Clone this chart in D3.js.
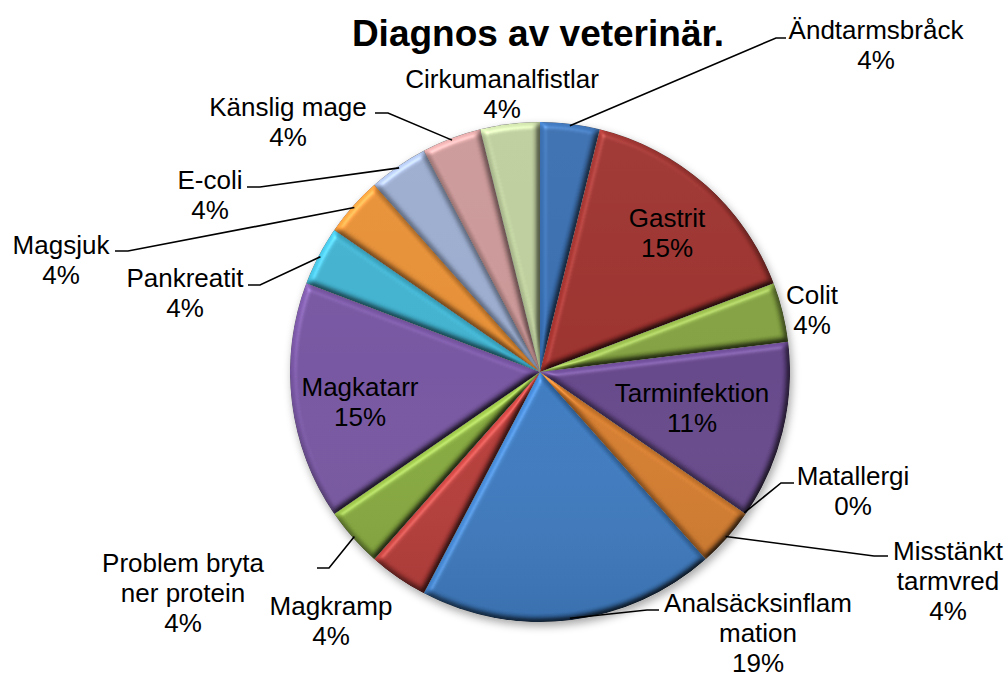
<!DOCTYPE html>
<html>
<head>
<meta charset="utf-8">
<script src="https://cdn.jsdelivr.net/npm/d3@7"></script>
<style>
  html, body { margin: 0; padding: 0; background: #ffffff; }
  svg { display: block; }
  text { font-family: "Liberation Sans", Arial, sans-serif; fill: #000; }
</style>
</head>
<body>
<svg id="chart" width="1008" height="677"></svg>
<script>
// ---- data ----
const title = "Diagnos av veterinär.";
const categories = ["Ändtarmsbråck", "Gastrit", "Colit", "Tarminfektion", "Matallergi",
  "Misstänkt tarmvred", "Analsäcksinflammation", "Magkramp", "Problem bryta ner protein",
  "Magkatarr", "Pankreatit", "Magsjuk", "E-coli", "Känslig mage", "Cirkumanalfistlar"];
const counts = [1, 4, 1, 3, 0, 1, 5, 1, 1, 4, 1, 1, 1, 1, 1];
const percentLabels = ["4%", "15%", "4%", "11%", "0%", "4%", "19%", "4%", "4%", "15%", "4%", "4%", "4%", "4%", "4%"];

// ---- styles / layout (kept apart from the data) ----
const colors = ["#3A74BC", "#A8332F", "#8DAE45", "#6C4B94", "#3CA3BF", "#E6852F",
  "#4083CF", "#C43E3A", "#8FB640", "#7F5BAD", "#44C0E0", "#FA9A38",
  "#A6B9DF", "#DBA2A2", "#CCDEA8"];
const labelLayout = {
  "Ändtarmsbråck":            {lines: ["Ändtarmsbråck"], x: 876, y: 39, lead: [776, 38, 786]},
  "Gastrit":                  {lines: ["Gastrit"], x: 667, y: 227},
  "Colit":                    {lines: ["Colit"], x: 812, y: 304},
  "Tarminfektion":            {lines: ["Tarminfektion"], x: 692, y: 402},
  "Matallergi":               {lines: ["Matallergi"], x: 853, y: 485, lead: [781, 483, 794]},
  "Misstänkt tarmvred":       {lines: ["Misstänkt", "tarmvred"], x: 948, y: 560, lead: [874, 556, 888]},
  "Analsäcksinflammation":    {lines: ["Analsäcksinflam", "mation"], x: 758, y: 612, lead: [647, 610, 659]},
  "Magkramp":                 {lines: ["Magkramp"], x: 331, y: 615},
  "Problem bryta ner protein":{lines: ["Problem bryta", "ner protein"], x: 183, y: 572, lead: [329, 568, 317]},
  "Magkatarr":                {lines: ["Magkatarr"], x: 360, y: 396},
  "Pankreatit":               {lines: ["Pankreatit"], x: 185, y: 287, lead: [260, 285, 248]},
  "Magsjuk":                  {lines: ["Magsjuk"], x: 61, y: 254, lead: [128, 251, 115]},
  "E-coli":                   {lines: ["E-coli"], x: 210, y: 189, lead: [260, 187, 247]},
  "Känslig mage":             {lines: ["Känslig mage"], x: 288, y: 116, lead: [388, 113, 375]},
  "Cirkumanalfistlar":        {lines: ["Cirkumanalfistlar"], x: 502, y: 88}
};
const cx = 540, cy = 372, R = 250;
const fontSize = 26, lineH = 30;

const svg = d3.select("#chart");
const defs = svg.append("defs");

// bevel filter
const f = defs.append("filter").attr("id", "bevel")
  .attr("x", "-5%").attr("y", "-5%").attr("width", "110%").attr("height", "110%")
  .attr("color-interpolation-filters", "sRGB");
f.append("feGaussianBlur").attr("in", "SourceAlpha").attr("stdDeviation", 3).attr("result", "blur");
const dl = f.append("feDiffuseLighting").attr("in", "blur").attr("surfaceScale", 4)
  .attr("diffuseConstant", 1).attr("lighting-color", "#ffffff").attr("result", "diff");
dl.append("feDistantLight").attr("azimuth", 235).attr("elevation", 55);
f.append("feComposite").attr("in", "SourceGraphic").attr("in2", "diff")
  .attr("operator", "arithmetic").attr("k1", 1.1).attr("k2", 0).attr("k3", 0).attr("k4", 0).attr("result", "lit");
const sl = f.append("feSpecularLighting").attr("in", "blur").attr("surfaceScale", 4)
  .attr("specularConstant", 0.5).attr("specularExponent", 30).attr("lighting-color", "#ffffff").attr("result", "spec");
sl.append("feDistantLight").attr("azimuth", 235).attr("elevation", 50);
f.append("feComposite").attr("in", "spec").attr("in2", "SourceAlpha").attr("operator", "in").attr("result", "specIn");
f.append("feComposite").attr("in", "lit").attr("in2", "specIn")
  .attr("operator", "arithmetic").attr("k1", 0).attr("k2", 1).attr("k3", 0.3).attr("k4", 0).attr("result", "out");
f.append("feComposite").attr("in", "out").attr("in2", "SourceAlpha").attr("operator", "in");

// shadow filter
const sh = defs.append("filter").attr("id", "shadow")
  .attr("x", "-10%").attr("y", "-10%").attr("width", "125%").attr("height", "125%");
sh.append("feDropShadow").attr("dx", 2).attr("dy", 4).attr("stdDeviation", 4)
  .attr("flood-color", "#000").attr("flood-opacity", 0.35);

// global vertical light gradient
const lg = defs.append("linearGradient").attr("id", "shade").attr("x1", 0).attr("y1", 0).attr("x2", 0).attr("y2", 1);
lg.append("stop").attr("offset", "0%").attr("stop-color", "#fff").attr("stop-opacity", 0.04);
lg.append("stop").attr("offset", "50%").attr("stop-color", "#fff").attr("stop-opacity", 0);
lg.append("stop").attr("offset", "100%").attr("stop-color", "#000").attr("stop-opacity", 0.1);

const pie = d3.pie().sort(null).value(d => d.value).startAngle(0).endAngle(2 * Math.PI);
const data = categories.map((c, i) => ({name: c, value: counts[i], pct: percentLabels[i], color: colors[i]}));
const arcs = pie(data);
const arc = d3.arc().innerRadius(0).outerRadius(R);

const g = svg.append("g").attr("transform", `translate(${cx},${cy})`);
g.append("circle").attr("r", R).attr("fill", "#888").attr("filter", "url(#shadow)");
g.selectAll("path.slice").data(arcs).join("path")
  .attr("class", "slice")
  .attr("d", arc)
  .attr("fill", d => d.data.color)
  .attr("filter", "url(#bevel)");
g.append("circle").attr("r", R).attr("fill", "url(#shade)").attr("pointer-events", "none");

// title
svg.append("text").attr("x", 538).attr("y", 46).attr("text-anchor", "middle")
  .style("font-size", "37px").style("font-weight", "bold").text(title);

// leader lines
const leaders = svg.append("g").attr("fill", "none").attr("stroke", "#000").attr("stroke-width", 1.6);
arcs.forEach(a => {
  const L = labelLayout[a.data.name];
  if (!L.lead) return;
  const mid = (a.startAngle + a.endAngle) / 2;
  const p0 = [cx + Math.sin(mid) * (R - 2), cy - Math.cos(mid) * (R - 2)];
  const [ex, ey, sx] = L.lead;
  leaders.append("path").attr("d", d3.line()([p0, [ex, ey], [sx, ey]]));
});

// labels
const labels = svg.append("g").style("font-size", fontSize + "px");
arcs.forEach(a => {
  const L = labelLayout[a.data.name];
  const lines = L.lines.concat([a.data.pct]);
  const t = labels.append("text").attr("text-anchor", "middle");
  lines.forEach((s, i) => {
    t.append("tspan").attr("x", L.x).attr("y", L.y + i * lineH).text(s);
  });
});
</script>
</body>
</html>
